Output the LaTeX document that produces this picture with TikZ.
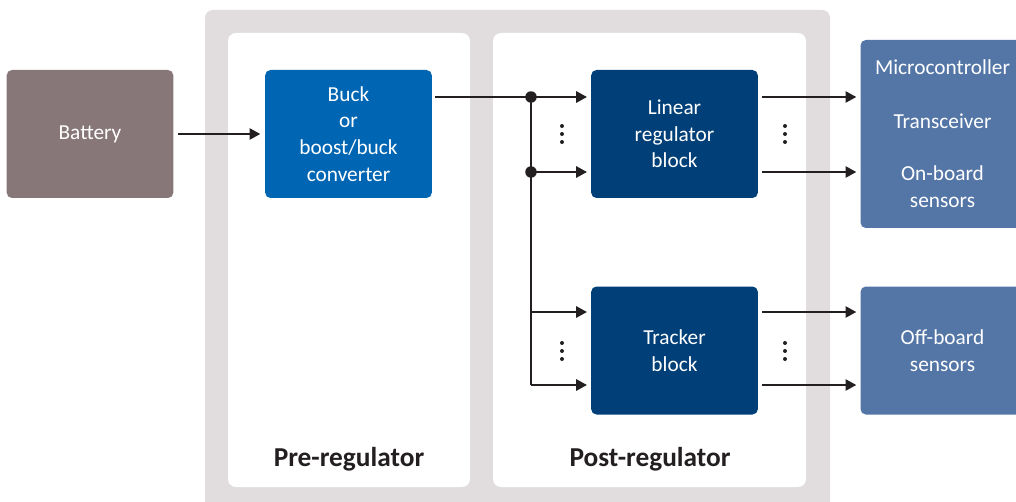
\documentclass[tikz,border=0pt]{standalone}
\usepackage{fontspec}
\setmainfont{Carlito}
\usetikzlibrary{arrows.meta}
\definecolor{panelgrey}{HTML}{E1DDDE}
\definecolor{batterygrey}{HTML}{877779}
\definecolor{buckblue}{HTML}{0066B3}
\definecolor{regblue}{HTML}{003F77}
\definecolor{loadblue}{HTML}{5476A7}
\definecolor{wiredark}{HTML}{231F20}

\begin{document}
\begin{tikzpicture}[
  x=0.75pt,y=-0.75pt,
  every node/.style={font=\fontsize{16}{20}\selectfont,align=center,text=white},
  block/.style={rounded corners=4pt,minimum width=125pt,minimum height=96pt,inner sep=2pt},
  loadbox/.style={block,fill=loadblue,minimum width=123pt},
  panellabel/.style={text=wiredark,font=\bfseries\fontsize{20.5}{24}\selectfont},
  wire/.style={line width=1.1pt,draw=wiredark},
  arr/.style={wire,-{Triangle[length=8pt,width=8.5pt]}}
]
\useasboundingbox (0,0) rectangle (1016,502);
\clip (0,0) rectangle (1016,502);
% panels
\fill[panelgrey,rounded corners=6pt] (205,10) rectangle (830,520);
\fill[white,rounded corners=6pt] (228,33) rectangle (470,487);
\fill[white,rounded corners=6pt] (493,33) rectangle (806,487);
\node[panellabel] (pre) at (349,459) {Pre-regulator};
\node[panellabel] (post) at (650,459) {Post-regulator};
% blocks
\node[block,fill=batterygrey] (battery) at (90,134) {\raisebox{-2pt}{Battery}};
\node[block,fill=buckblue] (buck) at (348.5,134) {Buck\\or\\boost/buck\\converter};
\node[block,fill=regblue] (linear) at (674.5,134) {Linear\\regulator\\block};
\node[block,fill=regblue] (tracker) at (674.5,350.5) {Tracker\\block};
\node[loadbox,minimum height=141pt] (loads) at (942.5,134)
  {Microcontroller\\[20pt]Transceiver\\[19.5pt]On-board\\sensors};
\node[loadbox] (offboard) at (942.5,350.5) {Off-board\\sensors};
% wiring
\coordinate (split1) at (531,97);
\coordinate (split2) at (531,172);
\coordinate (split3) at (531,312);
\coordinate (split4) at (531,385);
\draw[arr,shorten <=3pt,shorten >=3.5pt] (battery) -- (buck);
\draw[wire] ([xshift=2.5pt]buck.east |- split1) -- (split1) -- (split4);
\draw[arr] (split1) -- ([xshift=-3pt]linear.west |- split1);
\draw[arr] (split2) -- ([xshift=-3pt]linear.west |- split2);
\draw[arr] (split3) -- ([xshift=-3pt]tracker.west |- split3);
\draw[arr] (split4) -- ([xshift=-3pt]tracker.west |- split4);
\fill[wiredark] (split1) circle (4.3pt) (split2) circle (4.3pt);
\draw[arr] ([xshift=3pt]linear.east |- split1) -- ([xshift=-3pt]loads.west |- split1);
\draw[arr] ([xshift=3pt]linear.east |- split2) -- ([xshift=-3pt]loads.west |- split2);
\draw[arr] ([xshift=3pt]tracker.east |- split3) -- ([xshift=-3pt]offboard.west |- split3);
\draw[arr] ([xshift=3pt]tracker.east |- split4) -- ([xshift=-3pt]offboard.west |- split4);
% dots
\foreach \x in {562,785}{
  \foreach \y in {126,134,142,343,351,359}
    \fill[wiredark] (\x,\y) circle (1.5pt);
}
\end{tikzpicture}
\end{document}
